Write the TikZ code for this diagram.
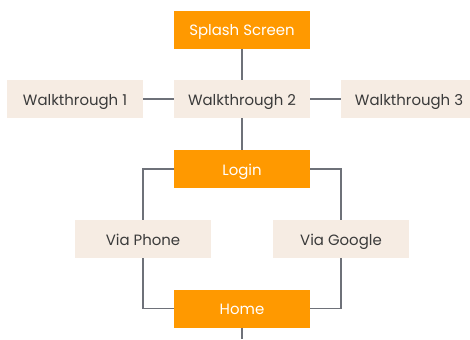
\documentclass[tikz,border=0pt]{standalone}
\usepackage{fontspec}
\setmainfont{Poppins}
\definecolor{orng}{HTML}{FF9900}
\definecolor{beig}{HTML}{F6ECE3}
\definecolor{lgray}{HTML}{6E7179}
\definecolor{dtext}{HTML}{3A3A3A}
\begin{document}
\begin{tikzpicture}[x=0.75pt,y=-0.75pt,
  box/.style={minimum width=102pt,minimum height=28.5pt,inner sep=0pt,
    text height=0.95em,text depth=0pt,font=\fontsize{11.2}{13}\selectfont},
  obox/.style={box,fill=orng,text=white},
  bbox/.style={box,fill=beig,text=dtext},
  conn/.style={draw=lgray,line width=0.8pt}]
\useasboundingbox (0,0) rectangle (470,339);
\node[obox] (splash) at (242,29.5) {Splash Screen};
\node[bbox] (w1) at (75,99) {Walkthrough 1};
\node[bbox] (w2) at (242,99) {Walkthrough 2};
\node[bbox] (w3) at (409,99) {Walkthrough 3};
\node[obox] (login) at (242,169) {Login};
\node[bbox] (phone) at (143,239) {Via Phone};
\node[bbox] (google) at (341,239) {Via Google};
\node[obox] (home) at (242,308.5) {Home};
\coordinate (bot) at (242,339);
\draw[conn] (splash) -- (w2);
\draw[conn] (w1) -- (w2);
\draw[conn] (w2) -- (w3);
\draw[conn] (w2) -- (login);
\draw[conn] (login) -| (phone);
\draw[conn] (login) -| (google);
\draw[conn] (phone) |- (home);
\draw[conn] (google) |- (home);
\draw[conn] (home) -- (bot);
\end{tikzpicture}
\end{document}
